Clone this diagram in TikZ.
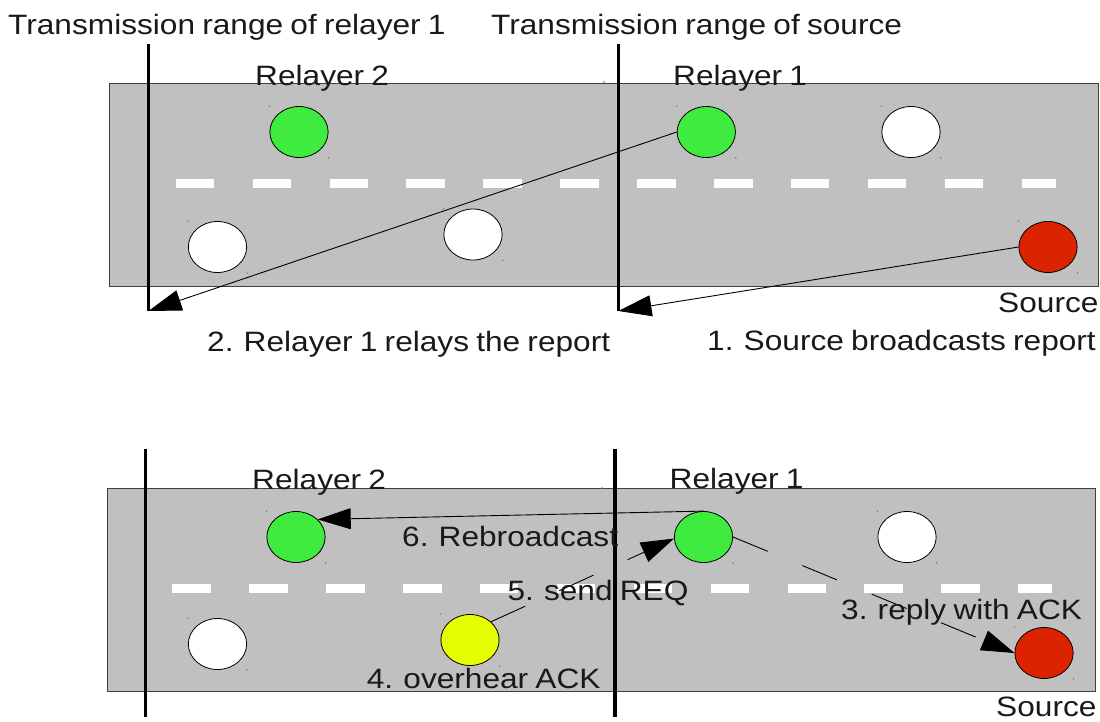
\documentclass[tikz,border=0pt]{standalone}
\usepackage{fontspec}
\setmainfont{Liberation Sans}[FakeStretch=1.13, WordSpace=0.82]
\usetikzlibrary{shapes.geometric,arrows.meta}
\definecolor{roadgray}{HTML}{C0C0C0}
\definecolor{nodegreen}{RGB}{62,235,62}
\definecolor{nodered}{HTML}{DC2300}
\definecolor{nodeyellow}{RGB}{230,255,0}
\begin{document}
\begin{tikzpicture}[x=1pt,y=-1pt,
  vehicle/.style={ellipse, draw=black, line width=0.8pt, minimum width=58.3pt, minimum height=51pt, inner sep=0pt},
  road/.style={fill=roadgray, draw=black!75, line width=1pt},
  lane/.style={draw=white, line width=9.5pt, dash pattern=on 38.5pt off 38.4pt},
  rangeline/.style={line width=3.8pt, draw=black},
  msg/.style={line width=0.9pt, draw=black, -{Triangle[length=33pt,width=21pt]}},
  msgdash/.style={msg, dash pattern=on 37.5pt off 37.5pt},
  lbl/.style={font=\fontsize{28}{32}\selectfont, text=black!90, inner sep=0pt, anchor=base west},
  speck/.style={fill=black!55}
]
\useasboundingbox (0,0) rectangle (1100,721);

% ---------------- top panel ----------------
\draw[road] (109,83) rectangle (1098,286);
\draw[lane] (175.7,183.5) -- (1056,183.5);

\node[vehicle, fill=nodegreen] (R2t) at (299,132) {};
\node[vehicle, fill=white]     (W1t) at (217.5,247) {};
\node[vehicle, fill=white]     (W2t) at (473,234.5) {};
\node[vehicle, fill=nodegreen] (R1t) at (706.3,132) {};
\node[vehicle, fill=white]     (W3t) at (911,132) {};
\node[vehicle, fill=nodered]   (St)  at (1048,247) {};

\coordinate (A1) at (148.5,311);
\coordinate (A2) at (618.5,311);
\draw[rangeline] (148.5,44) -- (A1);
\draw[rangeline] (618.5,44) -- (A2);

\draw[msg] (St.west) -- (A2);
\draw[msg] (R1t.west) -- (A1);

% ---------------- bottom panel ----------------
\draw[road] (107,488) rectangle (1095,691);
\draw[lane] (172.3,588.7) -- (1051.7,588.7);

\node[vehicle, fill=nodegreen]  (R2b) at (296,537) {};
\node[vehicle, fill=white]      (W1b) at (217.5,644) {};
\node[vehicle, fill=nodeyellow] (Yb)  at (470,640) {};
\node[vehicle, fill=nodegreen]  (R1b) at (703.5,537) {};
\node[vehicle, fill=white]      (W3b) at (907,537) {};
\node[vehicle, fill=nodered]    (Sb)  at (1044,653) {};

\coordinate (B1) at (145.5,717);
\coordinate (B2) at (615.3,717);
\draw[rangeline] (145.5,449) -- (B1);
\draw[rangeline] (615.3,449) -- (B2);

\draw[msgdash] (R1b.east) -- (Sb.west);
\draw[msgdash] (Yb.41) -- (R1b.183);
\draw[msg] (R1b.north) -- (R2b.39);

% small corner specks
\foreach \n in {R2t,W1t,W2t,R1t,W3t,St,R2b,W1b,Yb,R1b,W3b,Sb}{
  \fill[speck] (\n.west |- \n.north) circle (0.8);
  \fill[speck] (\n.east |- \n.south) circle (0.8);
}
\fill[speck] (604,82) circle (0.8);
\fill[speck] (602,488) circle (0.8);

% ---------------- labels ----------------
\node[lbl] (T1) at (8,34) {Transmission range of relayer 1};
\node[lbl] (T2) at (491,34) {Transmission range of source};
\node[lbl] (L1) at (255,85) {Relayer 2};
\node[lbl] (L2) at (673,85) {Relayer 1};
\node[lbl] (L3) at (998,312) {Source};
\node[lbl] (L4) at (207,351.5) {2. Relayer 1 relays the report};
\node[lbl] (L5) at (707,350.5) {1. Source broadcasts report};

\node[lbl] (M1) at (252,489.5) {Relayer 2};
\node[lbl] (M2) at (669.5,488) {Relayer 1};
\node[lbl] (M3) at (402,546) {6. Rebroadcast};
\node[lbl] (M4) at (507.3,600) {5. send REQ};
\node[lbl] (M5) at (841,619) {3. reply with ACK};
\node[lbl] (M6) at (366.7,688) {4. overhear ACK};
\node[lbl] (M7) at (996,716) {Source};
\end{tikzpicture}
\end{document}
